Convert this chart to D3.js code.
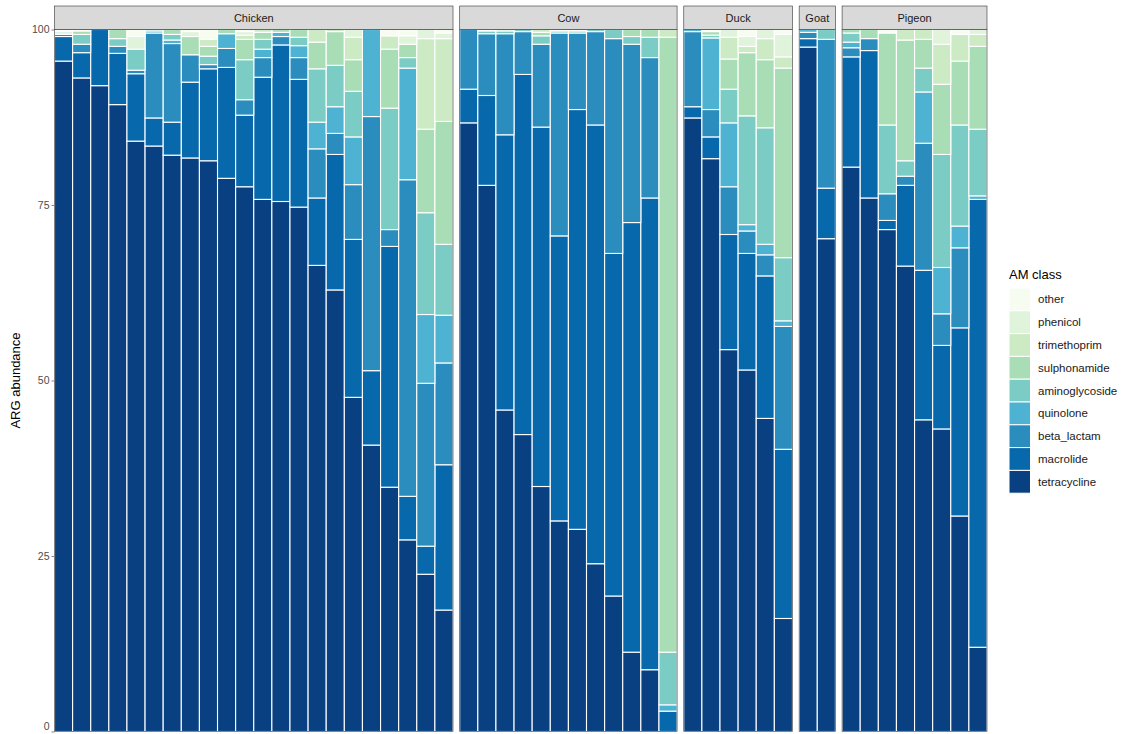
<!DOCTYPE html>
<html>
<head>
<meta charset="utf-8">
<script src="https://cdn.jsdelivr.net/npm/d3@7"></script>
<style>
  body { margin: 0; background: #fff; }
  svg { font-family: "Liberation Sans", Arial, sans-serif; }
</style>
</head>
<body>
<svg id="chart" width="1133" height="734"></svg>
<script>
// AM classes, bottom of the stack first
const classes = ["tetracycline", "macrolide", "beta_lactam", "quinolone", "aminoglycoside",
                 "sulphonamide", "trimethoprim", "phenicol", "other"];
const classColors = ["#084081", "#0868ac", "#2b8cbe", "#4eb3d3", "#7bccc4",
                     "#a8ddb5", "#ccebc5", "#e0f3db", "#f7fcf0"];
const hosts = ["Chicken", "Cow", "Duck", "Goat", "Pigeon"];

// one row per sample, values in the order of `classes`
const chicken = [
  [95.5, 3.5, 0.3, 0.2, 0.2, 0.2, 0, 0, 0.1],
  [93.1, 3.6, 1.2, 0, 1.4, 0.5, 0, 0, 0.2],
  [92.0, 8.0, 0, 0, 0, 0, 0, 0, 0],
  [89.3, 7.3, 1.0, 0, 1.1, 1.3, 0, 0, 0],
  [84.1, 9.6, 0.5, 0, 3.0, 0, 0, 1.8, 1.0],
  [83.4, 4.0, 12.1, 0.3, 0.2, 0, 0, 0, 0],
  [82.1, 4.7, 11.2, 0.5, 0.8, 0.7, 0, 0, 0],
  [81.7, 10.8, 3.9, 0, 0, 2.6, 0, 0.7, 0.3],
  [81.3, 13.1, 0.6, 0, 1.2, 1.4, 1.0, 0, 1.4],
  [78.8, 15.8, 2.7, 2.1, 0, 0.6, 0, 0, 0],
  [77.6, 10.2, 2.2, 0, 5.7, 2.9, 0.6, 0.5, 0.3],
  [75.8, 17.4, 2.8, 1.2, 1.4, 1.0, 0.4, 0, 0],
  [75.5, 22.3, 1.2, 0.6, 0, 0.4, 0, 0, 0],
  [74.7, 18.2, 3.1, 1.7, 1.2, 1.1, 0, 0, 0],
  [66.4, 9.6, 7.0, 3.8, 7.6, 3.8, 1.8, 0, 0],
  [62.9, 19.3, 3.0, 3.8, 5.9, 4.8, 0.3, 0, 0],
  [47.6, 22.5, 7.8, 6.8, 6.5, 4.5, 3.2, 1.1, 0],
  [40.8, 10.6, 36.2, 12.4, 0, 0, 0, 0, 0],
  [34.8, 34.3, 2.4, 0, 17.3, 8.4, 1.9, 0, 0.9],
  [27.3, 6.2, 45.1, 15.9, 1.5, 1.9, 0, 1.2, 0.9],
  [22.4, 4.0, 23.2, 9.8, 14.5, 11.9, 12.9, 1.3, 0],
  [17.3, 20.7, 14.5, 6.8, 10.1, 17.5, 11.8, 0.8, 0.5]
];
const cow = [
  [86.7, 4.8, 8.5, 0, 0, 0, 0, 0, 0],
  [77.8, 12.8, 8.8, 0, 0.4, 0, 0, 0, 0.2],
  [45.8, 39.2, 14.4, 0, 0.4, 0.2, 0, 0, 0],
  [42.3, 51.3, 6.1, 0, 0.3, 0, 0, 0, 0],
  [34.9, 51.2, 11.8, 0, 1.2, 0.5, 0.4, 0, 0],
  [30.0, 40.6, 28.9, 0, 0.3, 0, 0, 0, 0.2],
  [28.8, 59.8, 10.9, 0, 0.3, 0, 0, 0, 0.2],
  [23.9, 62.5, 13.3, 0, 0.3, 0, 0, 0, 0],
  [19.3, 48.8, 30.6, 0, 1.3, 0, 0, 0, 0],
  [11.3, 61.2, 25.4, 0, 1.1, 1.0, 0, 0, 0],
  [8.8, 67.2, 20.0, 0, 2.9, 1.1, 0, 0, 0],
  [0, 2.9, 0, 0.9, 7.5, 87.6, 1.1, 0, 0]
];
const duck = [
  [87.4, 1.6, 10.7, 0.3, 0, 0, 0, 0, 0],
  [81.6, 3.1, 3.9, 10.2, 0.4, 0.5, 0, 0, 0.3],
  [54.4, 16.4, 6.8, 9.1, 4.8, 4.3, 3.1, 1.1, 0],
  [51.5, 16.6, 3.2, 0.9, 15.5, 9.0, 0.9, 1.4, 1.0],
  [44.6, 20.3, 3.0, 1.5, 16.6, 9.7, 3.0, 1.3, 0],
  [16.1, 24.1, 17.5, 0.8, 9.0, 27.0, 1.6, 3.2, 0.7]
];
const goat = [
  [97.5, 1.2, 0.9, 0.4, 0, 0, 0, 0, 0],
  [70.2, 7.2, 21.2, 0, 1.4, 0, 0, 0, 0]
];
const pigeon = [
  [80.4, 15.7, 1.3, 0.8, 1.3, 0.5, 0, 0, 0],
  [76.0, 21.0, 1.7, 0, 0, 1.3, 0, 0, 0],
  [71.5, 1.3, 3.8, 0, 9.8, 13.1, 0, 0, 0.5],
  [66.3, 11.5, 1.3, 0, 2.2, 17.2, 1.5, 0, 0],
  [44.4, 21.3, 18.1, 7.3, 3.4, 4.1, 1.4, 0, 0],
  [43.1, 11.9, 4.5, 6.6, 16.1, 10.0, 5.7, 2.1, 0],
  [30.7, 26.8, 11.4, 3.1, 14.4, 9.1, 3.8, 0, 0.7],
  [12.0, 63.8, 0, 0.5, 9.5, 11.8, 1.7, 0.7, 0]
];
const yTicks = [0, 25, 50, 75, 100];

const hostData = [chicken, cow, duck, goat, pigeon];

const svg = d3.select("#chart");

// plot area
const plotLeft = 54.5, plotRight = 987, plotTop = 29.5, plotBottom = 731.5;
const stripH = 23.5, gap = 6.7;
const nBars = d3.sum(hostData, d => d.length);
const barW = (plotRight - plotLeft - gap * (hosts.length - 1)) / nBars;

const y = d3.scaleLinear().domain([0, 100]).range([plotBottom, plotTop]);
const color = d3.scaleOrdinal().domain(classes).range(classColors);
const stack = d3.stack().keys(d3.range(classes.length));

// y axis
const yAxis = svg.append("g")
    .attr("transform", `translate(${plotLeft},0)`)
    .call(d3.axisLeft(y).tickValues(yTicks).tickSize(3).tickPadding(2));
yAxis.select(".domain").remove();
yAxis.selectAll(".tick line").attr("stroke", "#333").attr("stroke-width", 0.6);
yAxis.selectAll(".tick text").attr("fill", "#4d4d4d").style("font-size", "10.5px");
// nudge the 0 label up so it stays inside the picture
yAxis.selectAll(".tick text").filter(d => d === 0).attr("dy", "-0.15em");

svg.append("text")
    .attr("transform", `translate(20,${(plotTop + plotBottom) / 2}) rotate(-90)`)
    .attr("text-anchor", "middle")
    .style("font-size", "13px")
    .attr("fill", "#000")
    .text("ARG abundance");

// panels
let x0 = plotLeft;
hosts.forEach(function (host, hi) {
    const rows = hostData[hi];
    const w = rows.length * barW;
    const x = d3.scaleBand().domain(d3.range(rows.length)).range([x0, x0 + w]).padding(0);

    const panel = svg.append("g");

    panel.append("rect")
        .attr("x", x0).attr("y", plotTop).attr("width", w).attr("height", plotBottom - plotTop)
        .attr("fill", "#fff");

    // grid lines
    panel.selectAll(".grid")
        .data(yTicks)
        .enter()
        .append("line")
        .attr("x1", x0).attr("x2", x0 + w)
        .attr("y1", d => y(d)).attr("y2", d => y(d))
        .attr("stroke", "#ebebeb").attr("stroke-width", 1);

    const series = stack(rows);
    panel.selectAll(".layer")
        .data(series)
        .enter()
        .append("g")
        .attr("fill", d => color(classes[d.key]))
        .selectAll("rect")
        .data(d => d.map((v, i) => ({ v: v, i: i })).filter(e => e.v[1] - e.v[0] > 0))
        .enter()
        .append("rect")
        .attr("x", d => x(d.i))
        .attr("width", x.bandwidth())
        .attr("y", d => y(d.v[1]))
        .attr("height", d => y(d.v[0]) - y(d.v[1]))
        .attr("stroke", "#fff")
        .attr("stroke-width", 1.1);

    // panel border
    panel.append("rect")
        .attr("x", x0).attr("y", plotTop).attr("width", w).attr("height", plotBottom - plotTop)
        .attr("fill", "none").attr("stroke", "#333").attr("stroke-width", 0.6);

    // strip
    panel.append("rect")
        .attr("x", x0).attr("y", plotTop - stripH).attr("width", w).attr("height", stripH)
        .attr("fill", "#d9d9d9").attr("stroke", "#333").attr("stroke-width", 0.6);
    panel.append("text")
        .attr("x", x0 + w / 2).attr("y", plotTop - stripH / 2)
        .attr("dy", "0.35em")
        .attr("text-anchor", "middle")
        .style("font-size", "11px")
        .attr("fill", "#1a1a1a")
        .text(host);

    x0 += w + gap;
});

// legend, top entry is the top of the stack
const legend = svg.append("g").attr("transform", "translate(1009,0)");
legend.append("text")
    .attr("x", 0).attr("y", 279)
    .style("font-size", "13px")
    .attr("fill", "#000")
    .text("AM class");

const keyH = 22.8;
const legendItems = classes.slice().reverse();
const items = legend.selectAll(".item")
    .data(legendItems)
    .enter()
    .append("g")
    .attr("transform", (d, i) => `translate(0,${288 + i * keyH})`);
items.append("rect")
    .attr("width", 21.5).attr("height", keyH)
    .attr("fill", d => color(d))
    .attr("stroke", "#fff").attr("stroke-width", 1);
items.append("text")
    .attr("x", 29).attr("y", keyH / 2)
    .attr("dy", "0.35em")
    .style("font-size", "11.5px")
    .attr("fill", "#1a1a1a")
    .text(d => d);
</script>
</body>
</html>
